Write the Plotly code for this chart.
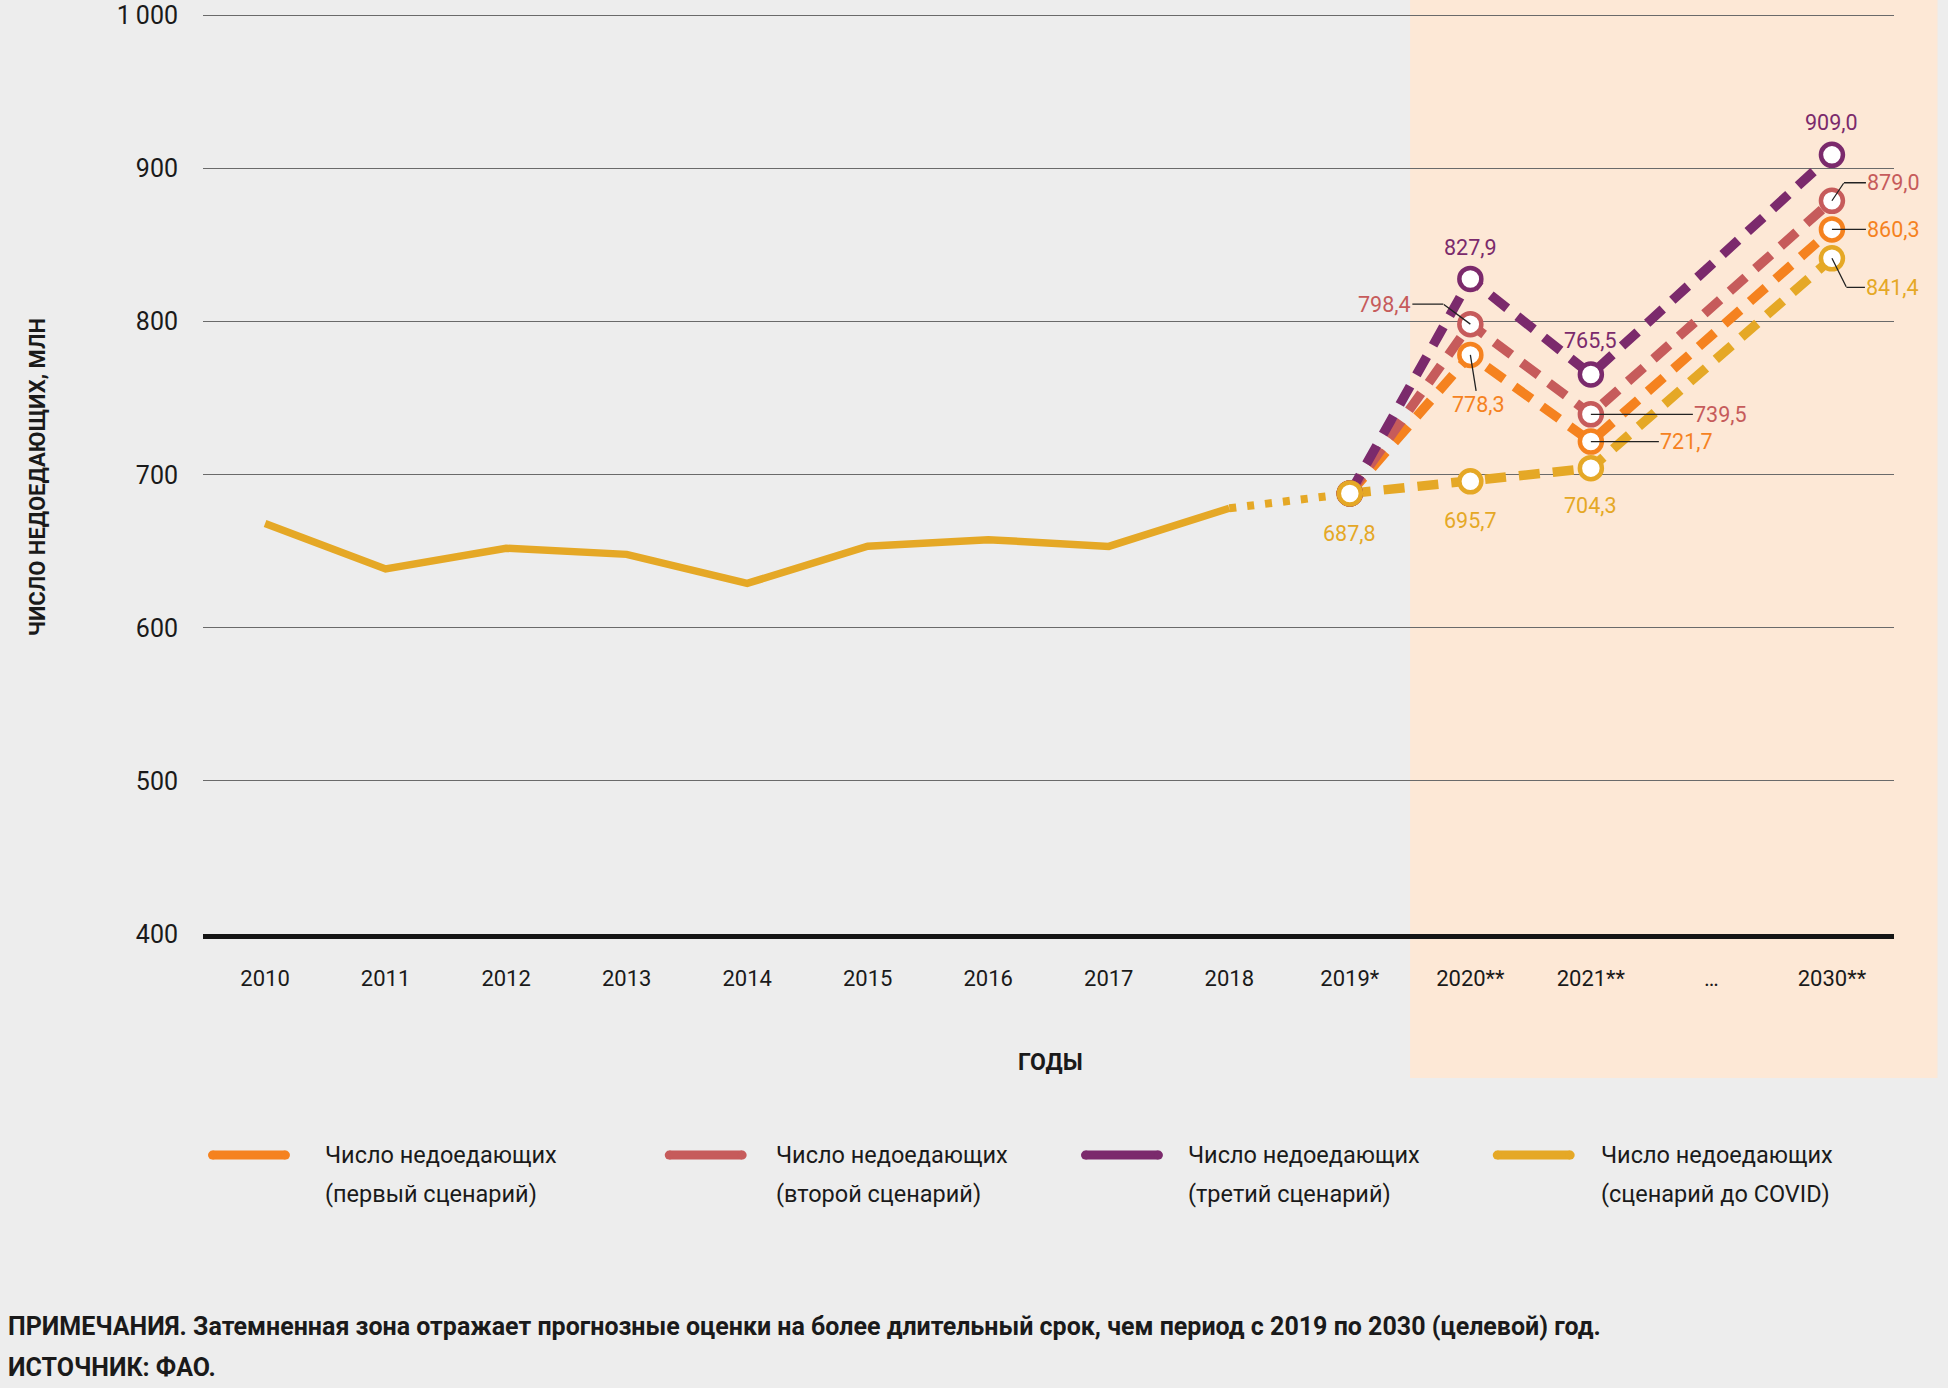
import plotly.graph_objects as go

# ---------------- data ----------------
categories = ["2010", "2011", "2012", "2013", "2014", "2015", "2016", "2017", "2018",
              "2019*", "2020**", "2021**", "…", "2030**"]
hist_years = ["2010", "2011", "2012", "2013", "2014", "2015", "2016", "2017", "2018"]
hist_values = [668.2, 638.5, 652.0, 648.0, 629.0, 653.3, 657.6, 653.2, 678.1]
bridge_years = ["2018", "2019*"]
proj_years = ["2019*", "2020**", "2021**", "2030**"]
scenario1 = [687.8, 778.3, 721.7, 860.3]
scenario2 = [687.8, 798.4, 739.5, 879.0]
scenario3 = [687.8, 827.9, 765.5, 909.0]
precovid = [687.8, 695.7, 704.3, 841.4]
y_ticks = [400, 500, 600, 700, 800, 900, 1000]
y_tick_labels = ["400", "500", "600", "700", "800", "900", "1\u2009000"]
series_labels = [("Число недоедающих", "(первый сценарий)"),
                 ("Число недоедающих", "(второй сценарий)"),
                 ("Число недоедающих", "(третий сценарий)"),
                 ("Число недоедающих", "(сценарий до COVID)")]
y_title = "ЧИСЛО НЕДОЕДАЮЩИХ, МЛН"
x_title = "ГОДЫ"
note_lines = ["ПРИМЕЧАНИЯ. Затемненная зона отражает прогнозные оценки на более длительный срок, чем период с 2019 по 2030 (целевой) год.",
              "ИСТОЧНИК: ФАО."]

# ---------------- style ----------------
W, H = 1948, 1388
Y_MIN, Y_MAX = 400, 1001
PL, PR, PB = 202.5, 1894.5, 934
PT = PB - (PB - 16) * (Y_MAX - Y_MIN) / 600.0
BG = "#ededed"
SHADE = "#fde8d6"
C_ORANGE = "#f5821f"
C_ROSE = "#c65b5b"
C_PURPLE = "#7b2a6c"
C_YELLOW = "#e5a826"
TXT = "#1a1a1a"
LEADER = "#222222"
NARROW = "Roboto, Liberation Sans, sans-serif"

idx = {c: i for i, c in enumerate(categories)}
XMIN, XMAX = -0.515, len(categories) - 1 + 0.515


def px_x(px):
    return (px - PL) / (PR - PL)


def px_y(py):
    return (PB - py) / (PB - PT)


def xs(labels):
    return [idx[c] for c in labels]


fig = go.Figure()

# historical line
fig.add_trace(go.Scatter(x=xs(hist_years), y=hist_values, mode="lines",
                         line=dict(color=C_YELLOW, width=7.5), hoverinfo="skip"))
# dotted bridge 2018 -> 2019
fig.add_trace(go.Scatter(x=xs(bridge_years), y=[hist_values[-1], precovid[0]], mode="lines",
                         line=dict(color=C_YELLOW, width=8, dash="7px,11px"), hoverinfo="skip"))

proj = [(precovid, C_YELLOW), (scenario1, C_ORANGE), (scenario2, C_ROSE), (scenario3, C_PURPLE)]
for vals, col in proj:
    fig.add_trace(go.Scatter(x=xs(proj_years), y=vals, mode="lines",
                             line=dict(color=col, width=9.5, dash="21px,13px"), hoverinfo="skip"))
for vals, col in proj[1:] + proj[:1]:
    fig.add_trace(go.Scatter(x=xs(proj_years), y=vals, mode="markers",
                             marker=dict(symbol="circle", size=22, color="white",
                                         line=dict(color=col, width=4.5)),
                             hoverinfo="skip"))

# ---------------- value labels ----------------
def fmt(v):
    return f"{v:.1f}".replace(".", ",")

# label placement in pixels relative to the marker:
# ("plain", dx, dy) | ("line", dx, dy) | ("elbow", dx, dy, ex, ey)
label_pos = {
    "pre": [("plain", 0, 40), ("plain", 0, 39), ("plain", 0, 37), ("elbow", 61, 29, 14.5, 29)],
    "s1": [None, ("line", 8, 50), ("line", 96, 0), ("line", 62, 0)],
    "s2": [None, ("elbow", -86, -20, -27, -20), ("line", 130, 0), ("elbow", 62, -18, 12, -18)],
    "s3": [None, ("plain", 0, -31), ("plain", 0, -34), ("plain", 0, -32)],
}
series_map = {"pre": (precovid, C_YELLOW), "s1": (scenario1, C_ORANGE),
              "s2": (scenario2, C_ROSE), "s3": (scenario3, C_PURPLE)}
annotations = []
for key, (vals, col) in series_map.items():
    for i, (yr, v) in enumerate(zip(proj_years, vals)):
        pos = label_pos[key][i]
        if pos is None:
            continue
        kind, dx, dy = pos[0], pos[1], pos[2]
        base = dict(x=idx[yr], y=v, xref="x", yref="y", text=fmt(v),
                    font=dict(family=NARROW, size=21.5, color=col))
        if kind == "line":
            base.update(showarrow=True, arrowhead=0, arrowwidth=1.3, arrowcolor=LEADER,
                        ax=dx, ay=dy, standoff=0, borderpad=1)
        elif kind == "elbow":
            ex, ey = pos[3], pos[4]
            base.update(showarrow=True, arrowhead=0, arrowwidth=1.3, arrowcolor=LEADER,
                        ax=dx - ex, ay=dy - ey, xshift=ex, yshift=-ey, standoff=0, borderpad=1)
            annotations.append(dict(x=idx[yr], y=v, xref="x", yref="y", text="",
                                    showarrow=True, arrowhead=0, arrowwidth=1.3,
                                    arrowcolor=LEADER, ax=ex, ay=ey, standoff=0, borderpad=0))
        else:
            base.update(showarrow=False, xshift=dx, yshift=-dy,
                        xanchor="center", yanchor="middle")
        annotations.append(base)

# axis titles
annotations.append(dict(x=px_x(37), y=px_y(478), xref="paper", yref="paper", text=f"<b>{y_title}</b>",
                        textangle=-90, showarrow=False, xanchor="center", yanchor="middle",
                        font=dict(family=NARROW, size=22, color=TXT)))
annotations.append(dict(x=px_x(1051), y=px_y(1062), xref="paper", yref="paper", text=f"<b>{x_title}</b>",
                        showarrow=False, xanchor="center", yanchor="middle",
                        font=dict(family=NARROW, size=23, color=TXT)))

# notes
for t, py in zip(note_lines, [1326, 1367]):
    annotations.append(dict(x=px_x(5), y=px_y(py), xref="paper", yref="paper", text=f"<b>{t}</b>",
                            xanchor="left", yanchor="middle", showarrow=False,
                            font=dict(family=NARROW, size=25, color=TXT)))

# ---------------- custom legend ----------------
shapes = []
legend_cols = [C_ORANGE, C_ROSE, C_PURPLE, C_YELLOW]
legend_x = [212, 669, 1085.5, 1497.5]
legend_tx = [323, 774, 1186, 1599]
LEG_LEN = 73
LEG_Y = 1155
LINE_GAP = 38.5
for (l1, l2), col, lx, tx in zip(series_labels, legend_cols, legend_x, legend_tx):
    shapes.append(dict(type="line", xref="paper", yref="paper",
                       x0=px_x(lx), x1=px_x(lx + LEG_LEN), y0=px_y(LEG_Y), y1=px_y(LEG_Y),
                       line=dict(color=col, width=9)))
    for ex in (lx, lx + LEG_LEN):
        shapes.append(dict(type="circle", xref="paper", yref="paper", xsizemode="pixel",
                           ysizemode="pixel", xanchor=px_x(ex), yanchor=px_y(LEG_Y),
                           x0=-4.5, x1=4.5, y0=-4.5, y1=4.5,
                           fillcolor=col, line=dict(width=0)))
    for k, line_txt in enumerate((l1, l2)):
        annotations.append(dict(x=px_x(tx), y=px_y(LEG_Y + k * LINE_GAP), xref="paper", yref="paper",
                                text=line_txt, xanchor="left", yanchor="middle", align="left",
                                showarrow=False, font=dict(family=NARROW, size=23.5, color=TXT)))

# shaded projection zone
shade_x0 = (idx["2020**"] - 0.5 - XMIN) / (XMAX - XMIN)
shapes.insert(0, dict(type="rect", xref="paper", yref="paper", layer="below",
                      x0=shade_x0, x1=px_x(1938), y0=px_y(1078), y1=px_y(0),
                      fillcolor=SHADE, line=dict(width=0)))

fig.update_layout(
    width=W, height=H,
    margin=dict(l=PL, r=W - PR, t=PT, b=H - PB, pad=0, autoexpand=False),
    paper_bgcolor=BG, plot_bgcolor="rgba(0,0,0,0)",
    showlegend=False,
    shapes=shapes, annotations=annotations,
    xaxis=dict(range=[XMIN, XMAX], tickvals=list(range(len(categories))), ticktext=categories,
               showgrid=False, zeroline=False, showline=True, linecolor="#151515", linewidth=4.5,
               ticks="", ticklabelstandoff=21, fixedrange=True, automargin=False,
               tickfont=dict(family=NARROW, size=22, color=TXT)),
    yaxis=dict(range=[Y_MIN, Y_MAX], tickvals=y_ticks, ticktext=y_tick_labels,
               showgrid=True, gridcolor="#6a6a6a", gridwidth=1.3, zeroline=False,
               showline=False, ticks="", ticklabelstandoff=24, fixedrange=True,
               ticklabeloverflow="allow", automargin=False,
               tickfont=dict(family=NARROW, size=25, color=TXT)),
)

fig.write_html("out.html", post_script="document.body.style.margin='0';",
               config={"displayModeBar": False})
